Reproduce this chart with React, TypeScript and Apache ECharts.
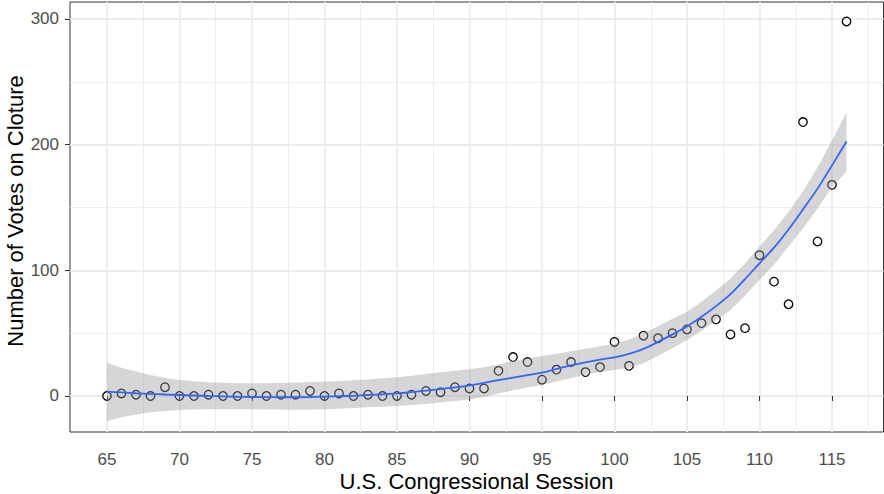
import React, { useEffect, useRef } from "react";
import * as echarts from "echarts";

// ---- data ----
const sessions = [65, 66, 67, 68, 69, 70, 71, 72, 73, 74, 75, 76, 77, 78, 79, 80, 81, 82, 83, 84, 85, 86, 87, 88, 89, 90, 91, 92, 93, 94, 95, 96, 97, 98, 99, 100, 101, 102, 103, 104, 105, 106, 107, 108, 109, 110, 111, 112, 113, 114, 115, 116];
const votes = [0, 2, 1, 0, 7, 0, 0, 1, 0, 0, 2, 0, 1, 1, 4, 0, 2, 0, 1, 0, 0, 1, 4, 3, 7, 6, 6, 20, 31, 27, 13, 21, 27, 19, 23, 43, 24, 48, 46, 50, 53, 58, 61, 49, 54, 112, 91, 73, 218, 123, 168, 298];
const smoothFit = [3.4, 2.8, 2.2, 1.7, 1.2, 0.8, 0.4, 0, -0.3, -0.6, -0.8, -0.9, -1, -1, -0.8, -0.5, -0.2, 0.2, 0.8, 1.4, 2.1, 3.1, 4.2, 5.5, 6.9, 8.5, 10.5, 12.6, 14.6, 16.6, 18.6, 21.5, 24.3, 26.8, 29, 30.8, 33.5, 37.5, 43, 49, 55.3, 63, 71.5, 81, 93, 105.6, 118, 132.5, 148.5, 165, 183.5, 202.5];
const smoothLower = [-20, -17, -14.8, -13, -12, -11.1, -10.8, -10.6, -10.6, -10.6, -10.6, -10.8, -11, -11, -10.9, -10.6, -10.2, -9.6, -9, -8.5, -8, -7.2, -6.3, -5.2, -4, -2.7, -0.8, 2, 4.5, 6.7, 8.8, 11.5, 14.3, 17, 19, 20.7, 22.5, 26, 32, 38, 44.6, 52, 60, 68.5, 80, 92.4, 104.5, 119, 133.5, 149, 166.6, 178.5];
const smoothUpper = [26.5, 22.5, 19.5, 16.8, 14.5, 12.7, 11.8, 11, 10.5, 10.2, 10.1, 10.2, 10.4, 10.8, 11.1, 11.4, 11.9, 12.5, 13.2, 14.1, 14.9, 16.2, 17.5, 18.8, 20, 21.2, 22.8, 25.3, 27.8, 30, 31.8, 33.6, 35.6, 37.5, 39.5, 41.4, 45, 50, 55.5, 61.5, 67, 75, 84, 93.5, 105.5, 118.9, 132, 146.5, 163, 182, 203.5, 225.5];

const xTicks = [65, 70, 75, 80, 85, 90, 95, 100, 105, 110, 115];
const xMinorGrid = [67.5, 72.5, 77.5, 82.5, 87.5, 92.5, 97.5, 102.5, 107.5, 112.5, 117.5];
const yTicks = [0, 100, 200, 300];
const yMinorGrid = [50, 150, 250];

const X_MIN = 62.45;
const X_MAX = 118.55;
const Y_MIN = -28.65;
const Y_MAX = 313.5;

const FONT = "'Liberation Sans', Arial, Helvetica, sans-serif";

export default function App() {
  const ref = useRef<HTMLDivElement>(null);

  useEffect(() => {
    if (!ref.current) return;
    const chart = echarts.init(ref.current, null, { renderer: "svg" });

    const vLines = (vals: number[]) =>
      vals.map((v) => ({ coords: [[v, Y_MIN], [v, Y_MAX]] }));
    const hLines = (vals: number[]) =>
      vals.map((v) => ({ coords: [[X_MIN, v], [X_MAX, v]] }));

    const bandData = sessions.map((s, i) => [s, smoothLower[i], smoothUpper[i]]);

    const option: any = {
      animation: false,
      backgroundColor: "#ffffff",
      grid: {
        left: 70,
        right: 0.5,
        top: 2,
        bottom: 62,
        show: true,
        borderColor: "#333333",
        borderWidth: 1,
        backgroundColor: "transparent",
        containLabel: false,
      },
      xAxis: {
        type: "value",
        min: X_MIN,
        max: X_MAX,
        splitLine: { show: false },
        axisLine: { show: false },
        axisTick: {
          show: true,
          customValues: xTicks,
          length: 5,
          lineStyle: { color: "#333333", width: 1 },
        },
        axisLabel: {
          customValues: xTicks,
          color: "#4d4d4d",
          fontSize: 17,
          fontFamily: FONT,
          margin: 19,
        },
      },
      yAxis: {
        type: "value",
        min: Y_MIN,
        max: Y_MAX,
        splitLine: { show: false },
        axisLine: { show: false },
        axisTick: {
          show: true,
          customValues: yTicks,
          length: 5,
          lineStyle: { color: "#333333", width: 1 },
        },
        axisLabel: {
          customValues: yTicks,
          color: "#4d4d4d",
          fontSize: 17,
          fontFamily: FONT,
          margin: 11,
        },
      },
      graphic: [
        {
          type: "text",
          x: 476.5,
          y: 481.3,
          style: {
            text: "U.S. Congressional Session",
            fontSize: 22,
            fontFamily: FONT,
            fill: "#000000",
            textAlign: "center",
            textVerticalAlign: "middle",
          },
        },
        {
          type: "text",
          x: 15.5,
          y: 211,
          rotation: Math.PI / 2,
          style: {
            text: "Number of Votes on Cloture",
            fontSize: 22,
            fontFamily: FONT,
            fill: "#000000",
            textAlign: "center",
            textVerticalAlign: "middle",
          },
        },
      ],
      series: [
        {
          type: "lines",
          coordinateSystem: "cartesian2d",
          silent: true,
          z: 0,
          data: [...vLines(xMinorGrid), ...hLines(yMinorGrid)],
          lineStyle: { color: "#ebebeb", width: 0.9, opacity: 1 },
        },
        {
          type: "lines",
          coordinateSystem: "cartesian2d",
          silent: true,
          z: 0,
          data: [...vLines(xTicks), ...hLines(yTicks)],
          lineStyle: { color: "#ebebeb", width: 1.8, opacity: 1 },
        },
        {
          type: "scatter",
          z: 2,
          silent: true,
          data: sessions.map((s, i) => [s, votes[i]]),
          symbol: "circle",
          symbolSize: 8.5,
          itemStyle: {
            color: "rgba(0,0,0,0)",
            borderColor: "#000000",
            borderWidth: 1.3,
            opacity: 1,
          },
        },
        {
          type: "custom",
          z: 3,
          silent: true,
          data: bandData,
          renderItem: (params: any, api: any) => {
            if (params.dataIndex !== 0) return null;
            const upper = bandData.map((d) => api.coord([d[0], d[2]]));
            const lower = bandData.map((d) => api.coord([d[0], d[1]])).reverse();
            return {
              type: "polygon",
              shape: { points: [...upper, ...lower] },
              style: { fill: "rgba(153,153,153,0.4)", stroke: "none" },
            };
          },
        },
        {
          type: "line",
          z: 4,
          silent: true,
          data: sessions.map((s, i) => [s, smoothFit[i]]),
          smooth: 0.3,
          showSymbol: false,
          symbol: "none",
          lineStyle: { color: "#3366FF", width: 1.8 },
        },
      ],
    };

    chart.setOption(option);
    return () => chart.dispose();
  }, []);

  return (
    <div
      ref={ref}
      style={{ position: "fixed", left: 0, top: 0, width: 884, height: 494 }}
    />
  );
}
